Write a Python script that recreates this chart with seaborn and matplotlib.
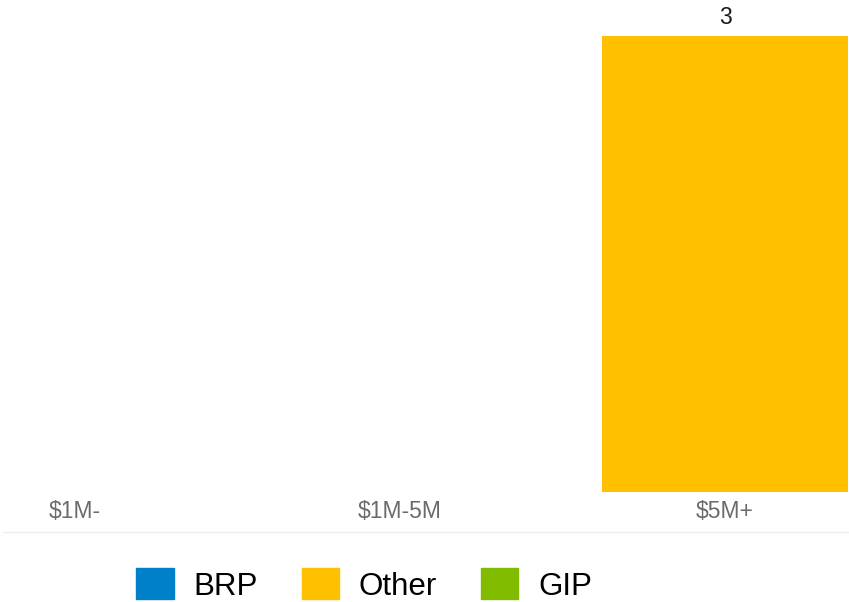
import matplotlib
matplotlib.use("Agg")
import matplotlib.pyplot as plt
import matplotlib.patches as mpatches
from matplotlib.lines import Line2D
import pandas as pd
import seaborn as sns

categories = ["$1M-", "$1M-5M", "$5M+"]
brp = [0, 0, 0]
other = [0, 0, 3]
gip = [0, 0, 0]

series_names = ["BRP", "Other", "GIP"]
colors = {"BRP": "#0080C9", "Other": "#FFC000", "GIP": "#82BC00"}

sns.set_theme(style="white")
plt.rcParams["font.family"] = ["Liberation Sans", "DejaVu Sans"]

df = pd.DataFrame({"cat": categories, "BRP": brp, "Other": other, "GIP": gip})
df["c_brp"] = df["BRP"]
df["c_other"] = df["c_brp"] + df["Other"]
df["c_gip"] = df["c_other"] + df["GIP"]

fig = plt.figure(figsize=(8.49, 6.02), dpi=100)
ax = fig.add_axes([0, 1 - 492 / 602, 1, 492 / 602])

# stacked bars: draw cumulative totals from the top layer down
for col, name in [("c_gip", "GIP"), ("c_other", "Other"), ("c_brp", "BRP")]:
    sns.barplot(data=df, x="cat", y=col, order=categories, color=colors[name],
                width=0.754, saturation=1, linewidth=0, ax=ax)

# value label on the top of each non-empty stack
top = ax.containers[0]
labels = [f"{v:g}" if v > 0 else "" for v in df["c_gip"]]
ax.bar_label(top, labels=labels, padding=5, fontsize=16.5, color="#1a1a1a")

ax.set_xlim(-0.2308, 2.3815)
ax.set_ylim(0, 3.237)
ax.set_xlabel("")
ax.set_ylabel("")
ax.set_yticks([])
ax.tick_params(axis="x", length=0, pad=6, labelsize=16.5, labelcolor="#6b6b6b")
for s in ax.spines.values():
    s.set_visible(False)

fig.add_artist(Line2D([0.004, 1], [1 - 532 / 602] * 2, color="#eeeeee", linewidth=1))

handles = [mpatches.Patch(color=colors[n], label=n) for n in series_names]
leg = fig.legend(handles=handles, loc="center", bbox_to_anchor=(364 / 849, 1 - 585 / 602),
                 ncol=3, frameon=False, fontsize=22.5, handlelength=1.2, handleheight=1.15,
                 handletextpad=0.63, columnspacing=1.4, borderpad=0)
for t in leg.get_texts():
    t.set_color("black")

fig.savefig("out.png", dpi=100)
